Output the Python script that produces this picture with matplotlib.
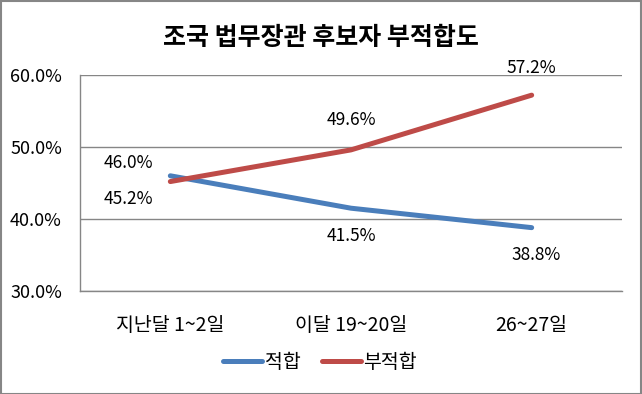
import matplotlib
matplotlib.use("Agg")
from matplotlib import pyplot as plt
import matplotlib.ticker as ticker
from matplotlib.patches import Rectangle

plt.rcParams['font.family'] = ['Noto Sans CJK KR', 'DejaVu Sans']

categories = ["지난달 1~2일", "이달 19~20일", "26~27일"]
fit = [46.0, 41.5, 38.8]
unfit = [45.2, 49.6, 57.2]

# label offsets in pixels (dx, dy) for each point
fit_offsets = [(-42, 13), (0, -28), (4, -27)]
unfit_offsets = [(-42, -17), (0, 30), (0, 27)]

blue = "#4A7EBB"
red = "#BE4B48"
grid = "#868686"

fig = plt.figure(figsize=(6.42, 3.94), dpi=100)
ax = fig.add_axes([80 / 642, 1 - 291 / 394, 542 / 642, 216 / 394])

x = list(range(len(categories)))
ax.plot(x, fit, color=blue, lw=3.6, solid_capstyle='round', label="적합", zorder=3)
ax.plot(x, unfit, color=red, lw=3.6, solid_capstyle='round', label="부적합", zorder=3)

for xi, v, off in zip(x, fit, fit_offsets):
    ax.annotate(f"{v:.1f}%", (xi, v), xytext=off, textcoords='offset pixels',
                ha='center', va='center', fontsize=12.5)
for xi, v, off in zip(x, unfit, unfit_offsets):
    ax.annotate(f"{v:.1f}%", (xi, v), xytext=off, textcoords='offset pixels',
                ha='center', va='center', fontsize=12.5)

ax.set_xlim(-0.5, 2.5)
ax.set_ylim(30, 60)
ax.set_yticks([30, 40, 50, 60])
ax.yaxis.set_major_formatter(ticker.FuncFormatter(lambda y, _: f"{y:.1f}%"))
ax.set_xticks(x)
ax.set_xticklabels(categories)
ax.tick_params(axis='both', length=0)
ax.tick_params(axis='y', pad=13, labelsize=13)
ax.tick_params(axis='x', pad=17, labelsize=14)
ax.grid(axis='y', color=grid, lw=1)
ax.set_axisbelow(True)
for s in ['top', 'right']:
    ax.spines[s].set_visible(False)
for s in ['left', 'bottom']:
    ax.spines[s].set_color(grid)
    ax.spines[s].set_linewidth(1)

fig.suptitle("조국 법무장관 후보자 부적합도", y=1 - 38 / 394, va='center',
             fontsize=18, fontweight='bold')

fig.legend(loc='center', bbox_to_anchor=(320 / 642, 1 - 362 / 394), ncol=2,
           frameon=False, fontsize=14, handlelength=2.0, handletextpad=0.15,
           columnspacing=1.1)

fig.patches.append(Rectangle((0.001, 0.001), 0.997, 0.997, transform=fig.transFigure,
                             fill=False, edgecolor=grid, lw=1.5))

fig.savefig("out.png", dpi=100)
